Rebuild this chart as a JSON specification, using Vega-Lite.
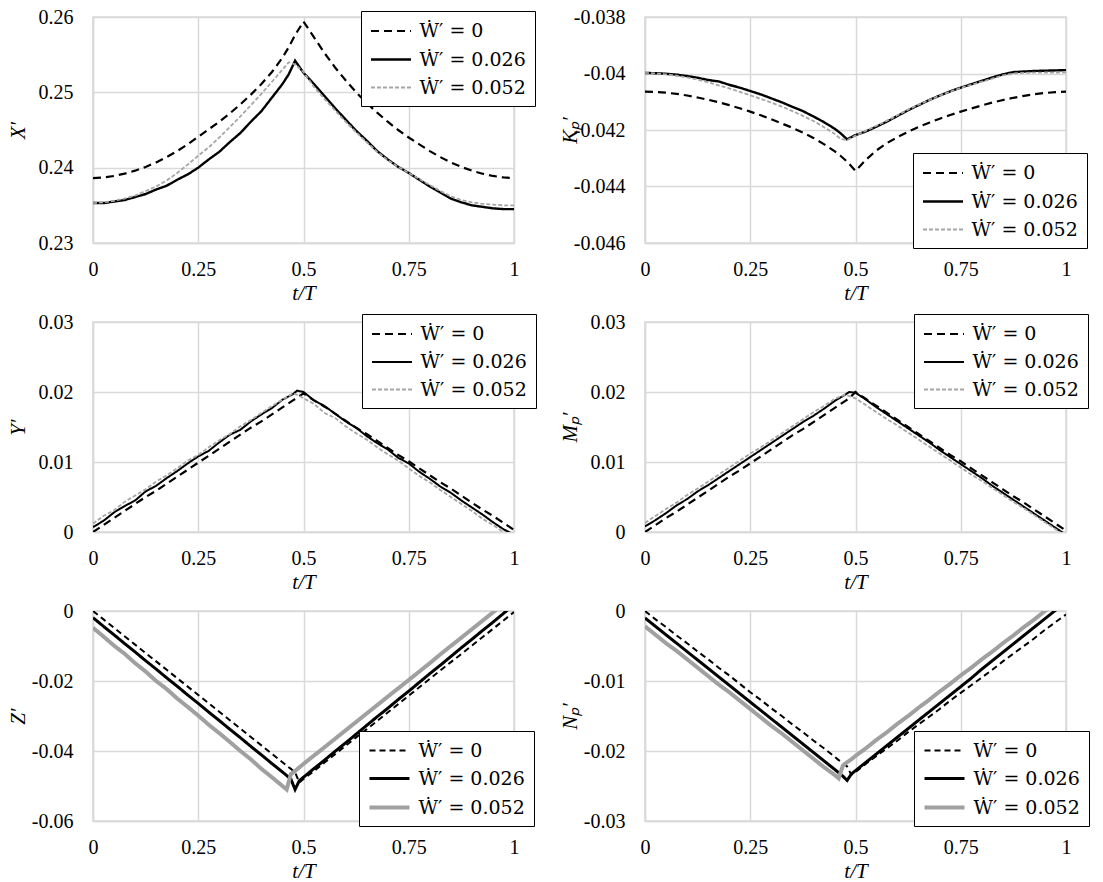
{
"$schema": "https://vega.github.io/schema/vega-lite/v6.json",
"padding": {"left": 6, "top": 6, "right": 5, "bottom": 5},
"background": "white",
"config": {
  "view": {"stroke": "#d9d9d9", "strokeWidth": 1.5},
  "axis": {"labelFont": "Liberation Serif", "labelFontSize": 20, "labelColor": "black", "labelFlush": false, "labelOverlap": false, "ticks": false, "domainColor": "#d9d9d9", "domainWidth": 1.5, "gridColor": "#d9d9d9", "gridWidth": 1.5, "titleFont": "Liberation Serif", "titleFontSize": 21, "titleFontStyle": "italic", "titleFontWeight": "normal", "titleColor": "black"},
  "axisX": {"labelPadding": 16, "titlePadding": 3},
  "axisY": {"labelPadding": 20, "titleAngle": 270, "titleBaseline": "middle", "titleAlign": "center", "titleX": -75},
  "legend": {"orient": "none", "strokeColor": "black", "fillColor": "white", "padding": 8.5, "rowPadding": 6.5, "labelFont": "DejaVu Serif", "labelFontSize": 19, "labelColor": "black", "labelOffset": 27, "symbolType": "M-1,0H3", "symbolSize": 400, "labelLimit": 200}
},
"datasets": {
  "W": [{"s": "a", "name": "Ẇ′ = 0"}, {"s": "b", "name": "Ẇ′ = 0.026"}, {"s": "c", "name": "Ẇ′ = 0.052"}],
  "X": [
{"t":0,"a":0.2386,"b":0.2353,"c":0.2353},
{"t":0.025,"a":0.2387,"b":0.2353,"c":0.2354},
{"t":0.05,"a":0.2389,"b":0.2355,"c":0.2356},
{"t":0.075,"a":0.2392,"b":0.2357,"c":0.2359},
{"t":0.1,"a":0.2396,"b":0.2361,"c":0.2363},
{"t":0.125,"a":0.2401,"b":0.2365,"c":0.2369},
{"t":0.15,"a":0.2407,"b":0.2371,"c":0.2375},
{"t":0.175,"a":0.2414,"b":0.2376,"c":0.2383},
{"t":0.2,"a":0.2422,"b":0.2384,"c":0.2393},
{"t":0.225,"a":0.2431,"b":0.2391,"c":0.2404},
{"t":0.25,"a":0.2441,"b":0.2400,"c":0.2416},
{"t":0.275,"a":0.2451,"b":0.2411,"c":0.2427},
{"t":0.3,"a":0.2461,"b":0.2421,"c":0.2440},
{"t":0.325,"a":0.2472,"b":0.2434,"c":0.2454},
{"t":0.35,"a":0.2484,"b":0.2446,"c":0.2468},
{"t":0.375,"a":0.2497,"b":0.2461,"c":0.2483},
{"t":0.4,"a":0.2511,"b":0.2475,"c":0.2498},
{"t":0.425,"a":0.2527,"b":0.2493,"c":0.2514},
{"t":0.45,"a":0.2546,"b":0.2511,"c":0.2530},
{"t":0.465,"a":0.2560,"b":0.2524,"c":0.2540},
{"t":0.48,"a":0.2576,"b":0.2542,"c":0.2537},
{"t":0.5,"a":0.2594,"b":0.2526,"c":0.2527},
{"t":0.525,"a":0.2573,"b":0.2511,"c":0.2507},
{"t":0.55,"a":0.2552,"b":0.2495,"c":0.2491},
{"t":0.575,"a":0.2533,"b":0.2479,"c":0.2476},
{"t":0.6,"a":0.2516,"b":0.2464,"c":0.2461},
{"t":0.625,"a":0.2500,"b":0.2449,"c":0.2447},
{"t":0.65,"a":0.2486,"b":0.2436,"c":0.2434},
{"t":0.675,"a":0.2473,"b":0.2422,"c":0.2421},
{"t":0.7,"a":0.2461,"b":0.2411,"c":0.2410},
{"t":0.725,"a":0.2450,"b":0.2401,"c":0.2401},
{"t":0.75,"a":0.2440,"b":0.2393,"c":0.2393},
{"t":0.775,"a":0.2431,"b":0.2384,"c":0.2385},
{"t":0.8,"a":0.2422,"b":0.2375,"c":0.2377},
{"t":0.825,"a":0.2414,"b":0.2367,"c":0.2369},
{"t":0.85,"a":0.2407,"b":0.2359,"c":0.2362},
{"t":0.875,"a":0.2401,"b":0.2354,"c":0.2357},
{"t":0.9,"a":0.2396,"b":0.2350,"c":0.2354},
{"t":0.925,"a":0.2392,"b":0.2348,"c":0.2352},
{"t":0.95,"a":0.2389,"b":0.2346,"c":0.2351},
{"t":0.975,"a":0.2387,"b":0.2345,"c":0.2350},
{"t":1,"a":0.2386,"b":0.2345,"c":0.2350}
  ],
  "K": [
{"t":0,"a":-0.04064,"b":-0.03998,"c":-0.03998},
{"t":0.025,"a":-0.04065,"b":-0.03999,"c":-0.04000},
{"t":0.05,"a":-0.04068,"b":-0.04001,"c":-0.04003},
{"t":0.075,"a":-0.04072,"b":-0.04004,"c":-0.04008},
{"t":0.1,"a":-0.04078,"b":-0.04009,"c":-0.04014},
{"t":0.125,"a":-0.04085,"b":-0.04015,"c":-0.04022},
{"t":0.15,"a":-0.04093,"b":-0.04023,"c":-0.04031},
{"t":0.175,"a":-0.04102,"b":-0.04028,"c":-0.04042},
{"t":0.2,"a":-0.04112,"b":-0.04040,"c":-0.04053},
{"t":0.225,"a":-0.04123,"b":-0.04050,"c":-0.04065},
{"t":0.25,"a":-0.04135,"b":-0.04062,"c":-0.04077},
{"t":0.275,"a":-0.04148,"b":-0.04074,"c":-0.04090},
{"t":0.3,"a":-0.04162,"b":-0.04088,"c":-0.04103},
{"t":0.325,"a":-0.04177,"b":-0.04102,"c":-0.04117},
{"t":0.35,"a":-0.04192,"b":-0.04118,"c":-0.04133},
{"t":0.375,"a":-0.04209,"b":-0.04133,"c":-0.04150},
{"t":0.4,"a":-0.04228,"b":-0.04152,"c":-0.04168},
{"t":0.425,"a":-0.04250,"b":-0.04172,"c":-0.04190},
{"t":0.45,"a":-0.04275,"b":-0.04195,"c":-0.04213},
{"t":0.465,"a":-0.04292,"b":-0.04212,"c":-0.04232},
{"t":0.48,"a":-0.04312,"b":-0.04233,"c":-0.04236},
{"t":0.5,"a":-0.04345,"b":-0.04218,"c":-0.04220},
{"t":0.525,"a":-0.04305,"b":-0.04205,"c":-0.04202},
{"t":0.55,"a":-0.04272,"b":-0.04188,"c":-0.04185},
{"t":0.575,"a":-0.04246,"b":-0.04170,"c":-0.04167},
{"t":0.6,"a":-0.04225,"b":-0.04150,"c":-0.04148},
{"t":0.625,"a":-0.04206,"b":-0.04130,"c":-0.04128},
{"t":0.65,"a":-0.04189,"b":-0.04112,"c":-0.04110},
{"t":0.675,"a":-0.04174,"b":-0.04094,"c":-0.04094},
{"t":0.7,"a":-0.04160,"b":-0.04078,"c":-0.04078},
{"t":0.725,"a":-0.04147,"b":-0.04063,"c":-0.04064},
{"t":0.75,"a":-0.04135,"b":-0.04050,"c":-0.04051},
{"t":0.775,"a":-0.04124,"b":-0.04038,"c":-0.04040},
{"t":0.8,"a":-0.04113,"b":-0.04026,"c":-0.04029},
{"t":0.825,"a":-0.04103,"b":-0.04014,"c":-0.04018},
{"t":0.85,"a":-0.04094,"b":-0.04003,"c":-0.04007},
{"t":0.875,"a":-0.04086,"b":-0.03995,"c":-0.04000},
{"t":0.9,"a":-0.04079,"b":-0.03993,"c":-0.03998},
{"t":0.925,"a":-0.04073,"b":-0.03991,"c":-0.03997},
{"t":0.95,"a":-0.04069,"b":-0.03990,"c":-0.03997},
{"t":0.975,"a":-0.04066,"b":-0.03989,"c":-0.03997},
{"t":1,"a":-0.04064,"b":-0.03988,"c":-0.03996}
  ],
  "Y": [
{"t":0,"a":0.0000,"b":0.0007,"c":0.0012},
{"t":0.025,"a":0.0010,"b":0.0016,"c":0.0023},
{"t":0.05,"a":0.0020,"b":0.0028,"c":0.0031},
{"t":0.075,"a":0.0030,"b":0.0037,"c":0.0043},
{"t":0.1,"a":0.0040,"b":0.0045,"c":0.0052},
{"t":0.125,"a":0.0050,"b":0.0058,"c":0.0061},
{"t":0.15,"a":0.0059,"b":0.0066,"c":0.0072},
{"t":0.175,"a":0.0069,"b":0.0077,"c":0.0081},
{"t":0.2,"a":0.0079,"b":0.0087,"c":0.0091},
{"t":0.225,"a":0.0089,"b":0.0098,"c":0.0102},
{"t":0.25,"a":0.0099,"b":0.0108,"c":0.0110},
{"t":0.275,"a":0.0109,"b":0.0116,"c":0.0121},
{"t":0.3,"a":0.0119,"b":0.0128,"c":0.0131},
{"t":0.325,"a":0.0129,"b":0.0139,"c":0.0140},
{"t":0.35,"a":0.0139,"b":0.0146,"c":0.0151},
{"t":0.375,"a":0.0149,"b":0.0158,"c":0.0160},
{"t":0.4,"a":0.0158,"b":0.0168,"c":0.0170},
{"t":0.425,"a":0.0168,"b":0.0177,"c":0.0180},
{"t":0.45,"a":0.0178,"b":0.0189,"c":0.0189},
{"t":0.475,"a":0.0188,"b":0.0197,"c":0.0198},
{"t":0.485,"a":0.0192,"b":0.0202,"c":0.0196},
{"t":0.5,"a":0.0198,"b":0.0200,"c":0.0191},
{"t":0.525,"a":0.0188,"b":0.0188,"c":0.0183},
{"t":0.55,"a":0.0179,"b":0.0180,"c":0.0170},
{"t":0.575,"a":0.0169,"b":0.0169,"c":0.0163},
{"t":0.6,"a":0.0159,"b":0.0158,"c":0.0151},
{"t":0.625,"a":0.0149,"b":0.0149,"c":0.0141},
{"t":0.65,"a":0.0140,"b":0.0137,"c":0.0132},
{"t":0.675,"a":0.0130,"b":0.0127,"c":0.0121},
{"t":0.7,"a":0.0120,"b":0.0118,"c":0.0111},
{"t":0.725,"a":0.0110,"b":0.0106,"c":0.0102},
{"t":0.75,"a":0.0101,"b":0.0098,"c":0.0091},
{"t":0.775,"a":0.0091,"b":0.0086,"c":0.0080},
{"t":0.8,"a":0.0081,"b":0.0076,"c":0.0071},
{"t":0.825,"a":0.0071,"b":0.0065,"c":0.0060},
{"t":0.85,"a":0.0062,"b":0.0056,"c":0.0050},
{"t":0.875,"a":0.0052,"b":0.0045,"c":0.0040},
{"t":0.9,"a":0.0042,"b":0.0035,"c":0.0030},
{"t":0.925,"a":0.0032,"b":0.0025,"c":0.0019},
{"t":0.95,"a":0.0023,"b":0.0014,"c":0.0010},
{"t":0.975,"a":0.0013,"b":0.0004,"c":0.0000},
{"t":1,"a":0.0003,"b":-0.0004,"c":-0.0010}
  ],
  "M": [
{"t":0,"a":0.0000,"b":0.0008,"c":0.0013},
{"t":0.025,"a":0.0010,"b":0.0017,"c":0.0023},
{"t":0.05,"a":0.0020,"b":0.0027,"c":0.0033},
{"t":0.075,"a":0.0029,"b":0.0038,"c":0.0042},
{"t":0.1,"a":0.0039,"b":0.0047,"c":0.0053},
{"t":0.125,"a":0.0049,"b":0.0058,"c":0.0062},
{"t":0.15,"a":0.0059,"b":0.0067,"c":0.0072},
{"t":0.175,"a":0.0069,"b":0.0077,"c":0.0082},
{"t":0.2,"a":0.0079,"b":0.0087,"c":0.0092},
{"t":0.225,"a":0.0088,"b":0.0097,"c":0.0102},
{"t":0.25,"a":0.0098,"b":0.0107,"c":0.0112},
{"t":0.275,"a":0.0108,"b":0.0117,"c":0.0121},
{"t":0.3,"a":0.0118,"b":0.0127,"c":0.0131},
{"t":0.325,"a":0.0128,"b":0.0137,"c":0.0141},
{"t":0.35,"a":0.0138,"b":0.0147,"c":0.0151},
{"t":0.375,"a":0.0147,"b":0.0157,"c":0.0161},
{"t":0.4,"a":0.0157,"b":0.0166,"c":0.0171},
{"t":0.425,"a":0.0167,"b":0.0176,"c":0.0180},
{"t":0.45,"a":0.0177,"b":0.0187,"c":0.0190},
{"t":0.475,"a":0.0187,"b":0.0196,"c":0.0196},
{"t":0.485,"a":0.0191,"b":0.0200,"c":0.0194},
{"t":0.5,"a":0.0200,"b":0.0199,"c":0.0191},
{"t":0.525,"a":0.0190,"b":0.0189,"c":0.0181},
{"t":0.55,"a":0.0180,"b":0.0178,"c":0.0171},
{"t":0.575,"a":0.0170,"b":0.0168,"c":0.0161},
{"t":0.6,"a":0.0160,"b":0.0158,"c":0.0152},
{"t":0.625,"a":0.0150,"b":0.0148,"c":0.0142},
{"t":0.65,"a":0.0140,"b":0.0138,"c":0.0132},
{"t":0.675,"a":0.0130,"b":0.0128,"c":0.0122},
{"t":0.7,"a":0.0120,"b":0.0117,"c":0.0112},
{"t":0.725,"a":0.0110,"b":0.0107,"c":0.0102},
{"t":0.75,"a":0.0101,"b":0.0097,"c":0.0092},
{"t":0.775,"a":0.0091,"b":0.0087,"c":0.0082},
{"t":0.8,"a":0.0081,"b":0.0077,"c":0.0073},
{"t":0.825,"a":0.0071,"b":0.0066,"c":0.0063},
{"t":0.85,"a":0.0061,"b":0.0056,"c":0.0053},
{"t":0.875,"a":0.0051,"b":0.0046,"c":0.0043},
{"t":0.9,"a":0.0042,"b":0.0036,"c":0.0034},
{"t":0.925,"a":0.0032,"b":0.0026,"c":0.0024},
{"t":0.95,"a":0.0022,"b":0.0016,"c":0.0014},
{"t":0.975,"a":0.0012,"b":0.0006,"c":0.0004},
{"t":1,"a":0.0002,"b":-0.0004,"c":-0.0006}
  ],
  "Z": [
{"t":0,"a":0.0000,"b":-0.0019,"c":-0.0048},
{"t":0.025,"a":-0.0024,"b":-0.0044,"c":-0.0073},
{"t":0.05,"a":-0.0048,"b":-0.0068,"c":-0.0099},
{"t":0.075,"a":-0.0072,"b":-0.0093,"c":-0.0122},
{"t":0.1,"a":-0.0096,"b":-0.0117,"c":-0.0149},
{"t":0.125,"a":-0.0120,"b":-0.0142,"c":-0.0173},
{"t":0.15,"a":-0.0144,"b":-0.0166,"c":-0.0200},
{"t":0.175,"a":-0.0168,"b":-0.0191,"c":-0.0223},
{"t":0.2,"a":-0.0192,"b":-0.0215,"c":-0.0250},
{"t":0.225,"a":-0.0216,"b":-0.0240,"c":-0.0274},
{"t":0.25,"a":-0.0240,"b":-0.0264,"c":-0.0299},
{"t":0.275,"a":-0.0264,"b":-0.0289,"c":-0.0325},
{"t":0.3,"a":-0.0288,"b":-0.0313,"c":-0.0349},
{"t":0.325,"a":-0.0312,"b":-0.0338,"c":-0.0374},
{"t":0.35,"a":-0.0336,"b":-0.0362,"c":-0.0400},
{"t":0.375,"a":-0.0360,"b":-0.0387,"c":-0.0424},
{"t":0.4,"a":-0.0384,"b":-0.0411,"c":-0.0451},
{"t":0.425,"a":-0.0408,"b":-0.0436,"c":-0.0475},
{"t":0.45,"a":-0.0432,"b":-0.0460,"c":-0.0500},
{"t":0.46,"a":-0.0442,"b":-0.0470,"c":-0.0510},
{"t":0.47,"a":-0.0451,"b":-0.0480,"c":-0.0466},
{"t":0.48,"a":-0.0461,"b":-0.0510,"c":-0.0457},
{"t":0.49,"a":-0.0490,"b":-0.0485,"c":-0.0447},
{"t":0.5,"a":-0.0480,"b":-0.0475,"c":-0.0437},
{"t":0.525,"a":-0.0457,"b":-0.0450,"c":-0.0413},
{"t":0.55,"a":-0.0433,"b":-0.0426,"c":-0.0389},
{"t":0.575,"a":-0.0409,"b":-0.0401,"c":-0.0365},
{"t":0.6,"a":-0.0385,"b":-0.0377,"c":-0.0341},
{"t":0.625,"a":-0.0361,"b":-0.0352,"c":-0.0317},
{"t":0.65,"a":-0.0338,"b":-0.0327,"c":-0.0293},
{"t":0.675,"a":-0.0314,"b":-0.0302,"c":-0.0269},
{"t":0.7,"a":-0.0290,"b":-0.0278,"c":-0.0245},
{"t":0.725,"a":-0.0266,"b":-0.0253,"c":-0.0221},
{"t":0.75,"a":-0.0242,"b":-0.0229,"c":-0.0197},
{"t":0.775,"a":-0.0218,"b":-0.0204,"c":-0.0173},
{"t":0.8,"a":-0.0194,"b":-0.0179,"c":-0.0149},
{"t":0.825,"a":-0.0170,"b":-0.0155,"c":-0.0124},
{"t":0.85,"a":-0.0146,"b":-0.0130,"c":-0.0100},
{"t":0.875,"a":-0.0123,"b":-0.0105,"c":-0.0076},
{"t":0.9,"a":-0.0099,"b":-0.0081,"c":-0.0052},
{"t":0.925,"a":-0.0075,"b":-0.0056,"c":-0.0028},
{"t":0.95,"a":-0.0051,"b":-0.0032,"c":-0.0004},
{"t":0.975,"a":-0.0027,"b":-0.0007,"c":0.0020},
{"t":1,"a":-0.0003,"b":0.0018,"c":0.0044}
  ],
  "N": [
{"t":0,"a":0.0000,"b":-0.0010,"c":-0.0022},
{"t":0.025,"a":-0.0012,"b":-0.0022,"c":-0.0034},
{"t":0.05,"a":-0.0023,"b":-0.0034,"c":-0.0046},
{"t":0.075,"a":-0.0035,"b":-0.0046,"c":-0.0057},
{"t":0.1,"a":-0.0046,"b":-0.0058,"c":-0.0069},
{"t":0.125,"a":-0.0058,"b":-0.0070,"c":-0.0081},
{"t":0.15,"a":-0.0069,"b":-0.0082,"c":-0.0093},
{"t":0.175,"a":-0.0081,"b":-0.0094,"c":-0.0105},
{"t":0.2,"a":-0.0092,"b":-0.0106,"c":-0.0116},
{"t":0.225,"a":-0.0104,"b":-0.0118,"c":-0.0128},
{"t":0.25,"a":-0.0116,"b":-0.0130,"c":-0.0140},
{"t":0.275,"a":-0.0127,"b":-0.0142,"c":-0.0152},
{"t":0.3,"a":-0.0139,"b":-0.0154,"c":-0.0164},
{"t":0.325,"a":-0.0150,"b":-0.0166,"c":-0.0175},
{"t":0.35,"a":-0.0162,"b":-0.0178,"c":-0.0187},
{"t":0.375,"a":-0.0173,"b":-0.0190,"c":-0.0199},
{"t":0.4,"a":-0.0185,"b":-0.0202,"c":-0.0211},
{"t":0.425,"a":-0.0196,"b":-0.0214,"c":-0.0223},
{"t":0.45,"a":-0.0208,"b":-0.0226,"c":-0.0234},
{"t":0.46,"a":-0.0213,"b":-0.0231,"c":-0.0239},
{"t":0.47,"a":-0.0217,"b":-0.0236,"c":-0.0221},
{"t":0.48,"a":-0.0222,"b":-0.0242,"c":-0.0216},
{"t":0.49,"a":-0.0234,"b":-0.0233,"c":-0.0212},
{"t":0.5,"a":-0.0230,"b":-0.0228,"c":-0.0207},
{"t":0.525,"a":-0.0218,"b":-0.0216,"c":-0.0196},
{"t":0.55,"a":-0.0207,"b":-0.0204,"c":-0.0184},
{"t":0.575,"a":-0.0196,"b":-0.0192,"c":-0.0173},
{"t":0.6,"a":-0.0185,"b":-0.0180,"c":-0.0161},
{"t":0.625,"a":-0.0173,"b":-0.0168,"c":-0.0150},
{"t":0.65,"a":-0.0162,"b":-0.0156,"c":-0.0138},
{"t":0.675,"a":-0.0151,"b":-0.0144,"c":-0.0127},
{"t":0.7,"a":-0.0140,"b":-0.0132,"c":-0.0115},
{"t":0.725,"a":-0.0128,"b":-0.0120,"c":-0.0104},
{"t":0.75,"a":-0.0117,"b":-0.0108,"c":-0.0092},
{"t":0.775,"a":-0.0106,"b":-0.0096,"c":-0.0081},
{"t":0.8,"a":-0.0095,"b":-0.0083,"c":-0.0069},
{"t":0.825,"a":-0.0084,"b":-0.0071,"c":-0.0058},
{"t":0.85,"a":-0.0072,"b":-0.0059,"c":-0.0046},
{"t":0.875,"a":-0.0061,"b":-0.0047,"c":-0.0035},
{"t":0.9,"a":-0.0050,"b":-0.0035,"c":-0.0023},
{"t":0.925,"a":-0.0039,"b":-0.0023,"c":-0.0012},
{"t":0.95,"a":-0.0027,"b":-0.0011,"c":0.0000},
{"t":0.975,"a":-0.0016,"b":0.0001,"c":0.0011},
{"t":1,"a":-0.0005,"b":0.0013,"c":0.0023}
  ]
},
"columns": 2,
"spacing": {"row": 79, "column": 131},
"bounds": "flush",
"align": "each",
"resolve": {"scale": {"color": "independent", "strokeDash": "independent", "strokeWidth": "independent"}, "legend": {"color": "independent", "strokeDash": "independent", "strokeWidth": "independent"}},
"concat": [
   {
    "width": 421, "height": 226,
    "data": {"name": "X"},
    "transform": [{"fold": ["a", "b", "c"], "as": ["s", "v"]}, {"lookup": "s", "from": {"data": {"name": "W"}, "key": "s", "fields": ["name"]}}],
    "mark": {"type": "line", "clip": true},
    "encoding": {
      "x": {"field": "t", "type": "quantitative", "scale": {"domain": [0, 1], "nice": false}, "axis": {"values": [0, 0.25, 0.5, 0.75, 1], "labelExpr": "'' + datum.value", "title": "t/T"}},
      "y": {"field": "v", "type": "quantitative", "scale": {"domain": [0.23, 0.26], "nice": false, "zero": false}, "axis": {"values": [0.23, 0.24, 0.25, 0.26], "labelExpr": "'' + datum.value", "title": "X′", "titleY": 113}},
      "color": {"field": "name", "type": "ordinal", "title": null, "scale": {"range": ["black", "black", "#a6a6a6"]}, "legend": {"legendX": 268, "legendY": -6}},
      "strokeDash": {"field": "name", "type": "ordinal", "title": null, "scale": {"range": [[8, 5], [1, 0], [4, 2]]}, "legend": {"legendX": 268, "legendY": -6}},
      "strokeWidth": {"field": "name", "type": "ordinal", "title": null, "scale": {"type": "ordinal", "range": [2.2, 2.4, 1.8]}, "legend": {"legendX": 268, "legendY": -6}}
    }
   },
   {
    "width": 421, "height": 226,
    "data": {"name": "K"},
    "transform": [{"fold": ["a", "b", "c"], "as": ["s", "v"]}, {"lookup": "s", "from": {"data": {"name": "W"}, "key": "s", "fields": ["name"]}}],
    "mark": {"type": "line", "clip": true},
    "encoding": {
      "x": {"field": "t", "type": "quantitative", "scale": {"domain": [0, 1], "nice": false}, "axis": {"values": [0, 0.25, 0.5, 0.75, 1], "labelExpr": "'' + datum.value", "title": "t/T"}},
      "y": {"field": "v", "type": "quantitative", "scale": {"domain": [-0.046, -0.038], "nice": false, "zero": false}, "axis": {"values": [-0.046, -0.044, -0.042, -0.04, -0.038], "labelExpr": "'' + datum.value", "title": "Kₚ′", "titleY": 113}},
      "color": {"field": "name", "type": "ordinal", "title": null, "scale": {"range": ["black", "black", "#a6a6a6"]}, "legend": {"legendX": 268, "legendY": 136}},
      "strokeDash": {"field": "name", "type": "ordinal", "title": null, "scale": {"range": [[8, 5], [1, 0], [4, 2]]}, "legend": {"legendX": 268, "legendY": 136}},
      "strokeWidth": {"field": "name", "type": "ordinal", "title": null, "scale": {"type": "ordinal", "range": [2.2, 2.4, 1.8]}, "legend": {"legendX": 268, "legendY": 136}}
    }
   },
   {
    "width": 421, "height": 210,
    "data": {"name": "Y"},
    "transform": [{"fold": ["a", "b", "c"], "as": ["s", "v"]}, {"lookup": "s", "from": {"data": {"name": "W"}, "key": "s", "fields": ["name"]}}],
    "mark": {"type": "line", "clip": true},
    "encoding": {
      "x": {"field": "t", "type": "quantitative", "scale": {"domain": [0, 1], "nice": false}, "axis": {"values": [0, 0.25, 0.5, 0.75, 1], "labelExpr": "'' + datum.value", "title": "t/T"}},
      "y": {"field": "v", "type": "quantitative", "scale": {"domain": [0, 0.03], "nice": false, "zero": false}, "axis": {"values": [0, 0.01, 0.02, 0.03], "labelExpr": "'' + datum.value", "title": "Y′", "titleY": 105}},
      "color": {"field": "name", "type": "ordinal", "title": null, "scale": {"range": ["black", "black", "#a6a6a6"]}, "legend": {"legendX": 269, "legendY": -8}},
      "strokeDash": {"field": "name", "type": "ordinal", "title": null, "scale": {"range": [[8, 5], [1, 0], [4, 2]]}, "legend": {"legendX": 269, "legendY": -8}},
      "strokeWidth": {"field": "name", "type": "ordinal", "title": null, "scale": {"type": "ordinal", "range": [2.2, 2.0, 1.8]}, "legend": {"legendX": 269, "legendY": -8}}
    }
   },
   {
    "width": 421, "height": 210,
    "data": {"name": "M"},
    "transform": [{"fold": ["a", "b", "c"], "as": ["s", "v"]}, {"lookup": "s", "from": {"data": {"name": "W"}, "key": "s", "fields": ["name"]}}],
    "mark": {"type": "line", "clip": true},
    "encoding": {
      "x": {"field": "t", "type": "quantitative", "scale": {"domain": [0, 1], "nice": false}, "axis": {"values": [0, 0.25, 0.5, 0.75, 1], "labelExpr": "'' + datum.value", "title": "t/T"}},
      "y": {"field": "v", "type": "quantitative", "scale": {"domain": [0, 0.03], "nice": false, "zero": false}, "axis": {"values": [0, 0.01, 0.02, 0.03], "labelExpr": "'' + datum.value", "title": "Mₚ′", "titleY": 105}},
      "color": {"field": "name", "type": "ordinal", "title": null, "scale": {"range": ["black", "black", "#a6a6a6"]}, "legend": {"legendX": 269, "legendY": -8}},
      "strokeDash": {"field": "name", "type": "ordinal", "title": null, "scale": {"range": [[8, 5], [1, 0], [4, 2]]}, "legend": {"legendX": 269, "legendY": -8}},
      "strokeWidth": {"field": "name", "type": "ordinal", "title": null, "scale": {"type": "ordinal", "range": [2.2, 2.0, 1.8]}, "legend": {"legendX": 269, "legendY": -8}}
    }
   },
   {
    "width": 421, "height": 210,
    "data": {"name": "Z"},
    "transform": [{"fold": ["a", "b", "c"], "as": ["s", "v"]}, {"lookup": "s", "from": {"data": {"name": "W"}, "key": "s", "fields": ["name"]}}],
    "mark": {"type": "line", "clip": true},
    "encoding": {
      "x": {"field": "t", "type": "quantitative", "scale": {"domain": [0, 1], "nice": false}, "axis": {"values": [0, 0.25, 0.5, 0.75, 1], "labelExpr": "'' + datum.value", "title": "t/T"}},
      "y": {"field": "v", "type": "quantitative", "scale": {"domain": [-0.06, 0], "nice": false, "zero": false}, "axis": {"values": [-0.06, -0.04, -0.02, 0], "labelExpr": "'' + datum.value", "title": "Z′", "titleY": 105}},
      "color": {"field": "name", "type": "ordinal", "title": null, "scale": {"range": ["black", "black", "#a0a0a0"]}, "legend": {"legendX": 266, "legendY": 120}},
      "strokeDash": {"field": "name", "type": "ordinal", "title": null, "scale": {"range": [[6, 4], [1, 0], [1, 0]]}, "legend": {"legendX": 266, "legendY": 120}},
      "strokeWidth": {"field": "name", "type": "ordinal", "title": null, "scale": {"type": "ordinal", "range": [2.0, 3.0, 4.0]}, "legend": {"legendX": 266, "legendY": 120}}
    }
   },
   {
    "width": 421, "height": 210,
    "data": {"name": "N"},
    "transform": [{"fold": ["a", "b", "c"], "as": ["s", "v"]}, {"lookup": "s", "from": {"data": {"name": "W"}, "key": "s", "fields": ["name"]}}],
    "mark": {"type": "line", "clip": true},
    "encoding": {
      "x": {"field": "t", "type": "quantitative", "scale": {"domain": [0, 1], "nice": false}, "axis": {"values": [0, 0.25, 0.5, 0.75, 1], "labelExpr": "'' + datum.value", "title": "t/T"}},
      "y": {"field": "v", "type": "quantitative", "scale": {"domain": [-0.03, 0], "nice": false, "zero": false}, "axis": {"values": [-0.03, -0.02, -0.01, 0], "labelExpr": "'' + datum.value", "title": "Nₚ′", "titleY": 105}},
      "color": {"field": "name", "type": "ordinal", "title": null, "scale": {"range": ["black", "black", "#a0a0a0"]}, "legend": {"legendX": 269, "legendY": 120}},
      "strokeDash": {"field": "name", "type": "ordinal", "title": null, "scale": {"range": [[6, 4], [1, 0], [1, 0]]}, "legend": {"legendX": 269, "legendY": 120}},
      "strokeWidth": {"field": "name", "type": "ordinal", "title": null, "scale": {"type": "ordinal", "range": [2.0, 3.0, 4.0]}, "legend": {"legendX": 269, "legendY": 120}}
    }
   }
]
}
